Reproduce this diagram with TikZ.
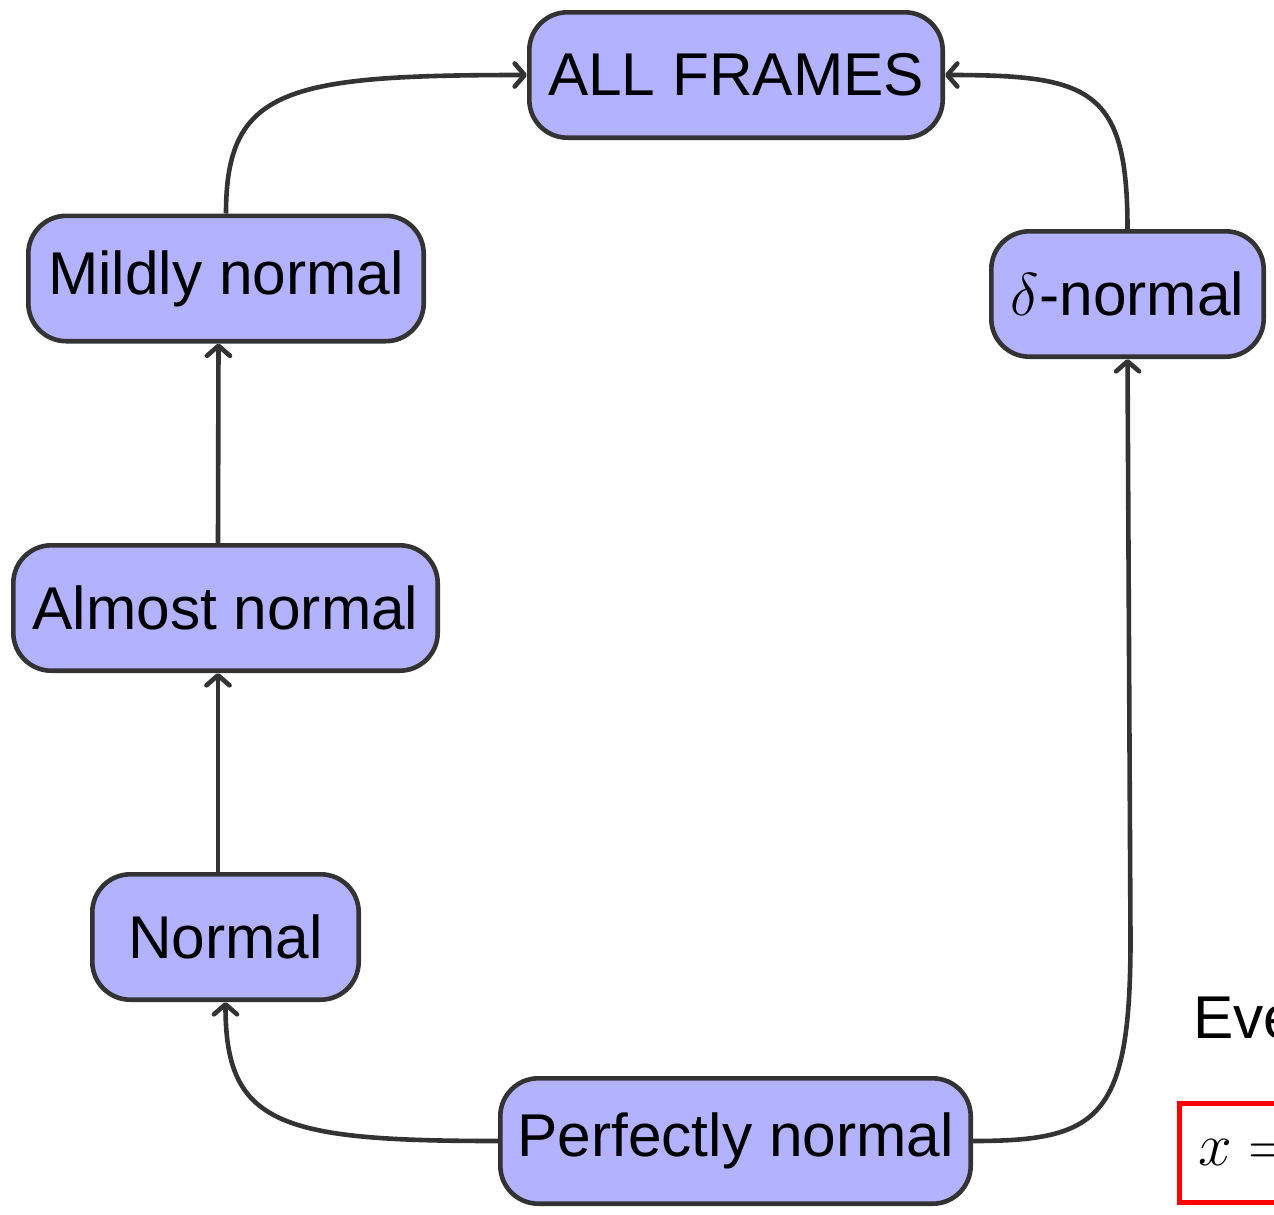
\documentclass[tikz,border=0pt]{standalone}
\usepackage{fix-cm}
\usepackage{fontspec}
\setmainfont{Liberation Sans}
\usetikzlibrary{arrows.meta,calc}

\definecolor{boxfill}{RGB}{178,178,255}
\definecolor{inkgray}{RGB}{51,51,51}

\tikzset{
  frame/.style={draw=inkgray, fill=boxfill, line width=2.3pt, rounded corners=19pt,
    minimum height=62.7pt, inner sep=0pt, text=black,
    font=\fontsize{30.2pt}{36pt}\selectfont},
  link/.style={draw=inkgray, line width=2.3pt,
    -{Straight Barb[length=5pt,width=11.5pt,round]}},
  plain/.style={font=\fontsize{30.2pt}{36pt}\selectfont}
}

\begin{document}
\begin{tikzpicture}[x=0.5pt,y=0.5pt]
  \useasboundingbox (0,0) rectangle (1274,-1215);
  \clip (0,0) rectangle (1274,-1215);

  % the classes of frames
  \node[frame, minimum width=206.7pt]   (all) at (736,-75)     {ALL FRAMES};
  \node[frame, minimum width=197.7pt]   (mn)  at (226,-278.5)  {Mildly normal};
  \node[frame, minimum width=136.2pt]   (dn)  at (1127.5,-294) {$\delta$-normal};
  \node[frame, minimum width=212.2pt]   (an)  at (225.5,-608)  {Almost normal};
  \node[frame, minimum width=133.2pt]   (nn)  at (225.5,-937)  {Normal};
  \node[frame, minimum width=235.2pt]   (pn)  at (735.5,-1141) {Perfectly normal};

  % implications
  \draw[link] (mn.north) .. controls +(0,125) and +(-241,0) .. (all.west);
  \draw[link] (dn.north) .. controls +(0,140) and +(146,0) .. (all.east);
  \draw[link] ([xshift=-3.75pt]an.north) -- ([xshift=-3.75pt]mn.south);
  \draw[link] ([xshift=-3.75pt]nn.north) -- ([xshift=-3.75pt]an.south);
  \draw[link] (pn.west) .. controls +(-218,0) and +(0,-123) .. (nn.south);
  \draw[link] (pn.east) .. controls +(126,0) and +(0,-180) .. ($(dn.south)+(3,-580)$) -- (dn.south);

  % text running off the right edge
  \node[plain, anchor=base west, inner sep=0pt] (ev) at (1193,-1038) {Every};
  \node[draw=red, line width=2.5pt, anchor=north west, minimum height=49.5pt,
        inner xsep=9.5pt, inner ysep=0pt, text width=150pt, align=left,
        font=\fontsize{30.2pt}{36pt}\selectfont] (eq) at (1176.5,-1100.5) {$x = $};
\end{tikzpicture}
\end{document}
